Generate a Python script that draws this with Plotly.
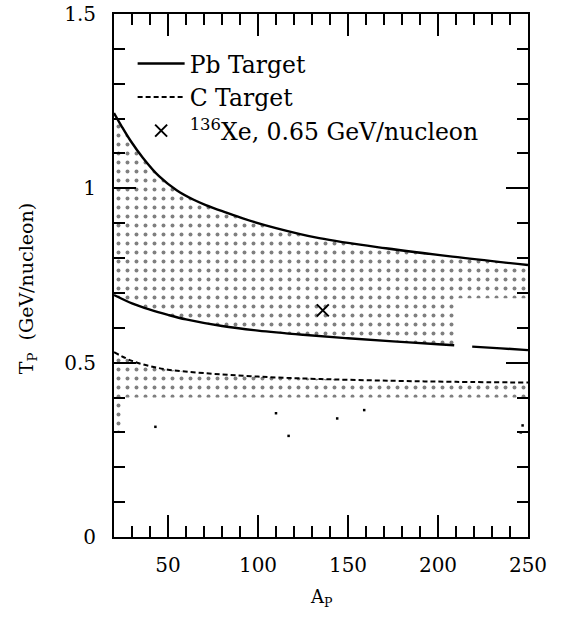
import plotly.graph_objects as go

# ---- data ----
A_pb_upper = [20, 24, 29, 36, 45, 55, 64, 71, 82, 92, 110, 134, 171, 208, 250]
T_pb_upper = [1.216, 1.180, 1.138, 1.088, 1.035, 0.994, 0.968, 0.952, 0.931, 0.913, 0.886, 0.857, 0.828, 0.804, 0.78]

A_pb_lower1 = [20, 30, 40, 50, 60, 80, 100, 125, 150, 175, 200, 209]
T_pb_lower1 = [0.694, 0.67, 0.652, 0.637, 0.624, 0.605, 0.592, 0.58, 0.57, 0.561, 0.553, 0.55]
A_pb_lower2 = [219, 235, 250]
T_pb_lower2 = [0.546, 0.541, 0.536]

A_c = [20, 30, 40, 50, 70, 100, 135, 175, 210, 250]
T_c = [0.53, 0.505, 0.49, 0.48, 0.47, 0.46, 0.453, 0.448, 0.445, 0.443]

# stippled (Monte-Carlo) regions: boundaries of the dotted areas
A_pb_cut = [250, 210, 210]
T_pb_cut = [0.685, 0.685, 0.55]
A_c_floor = [250, 26, 24, 20]
T_c_floor = [0.40, 0.40, 0.30, 0.30]

stray_A = [43, 110, 117, 144, 159, 246, 247]
stray_T = [0.316, 0.355, 0.29, 0.34, 0.364, 0.30, 0.32]

xe_A = [136]
xe_T = [0.65]

FONT = "DejaVu Serif"

fig = go.Figure()

pattern = dict(shape=".", fgcolor="black", bgcolor="rgba(0,0,0,0)", size=9, solidity=0.15)

# dotted Pb region
pb_poly_x = A_pb_upper + A_pb_cut + A_pb_lower1[::-1]
pb_poly_y = T_pb_upper + T_pb_cut + T_pb_lower1[::-1]
fig.add_trace(go.Scatter(
    x=pb_poly_x, y=pb_poly_y, mode="none", fill="toself",
    fillcolor="rgba(0,0,0,0)", fillpattern=pattern,
    showlegend=False, hoverinfo="skip"))

# dotted C region
c_poly_x = A_c + A_c_floor
c_poly_y = T_c + T_c_floor
fig.add_trace(go.Scatter(
    x=c_poly_x, y=c_poly_y, mode="none", fill="toself",
    fillcolor="rgba(0,0,0,0)", fillpattern=pattern,
    showlegend=False, hoverinfo="skip"))

fig.add_trace(go.Scatter(
    x=stray_A, y=stray_T, mode="markers",
    marker=dict(color="black", size=2.5, symbol="square"),
    showlegend=False, hoverinfo="skip"))

# Pb target curves
pb_x = A_pb_upper + [None] + A_pb_lower1 + [None] + A_pb_lower2
pb_y = T_pb_upper + [None] + T_pb_lower1 + [None] + T_pb_lower2
fig.add_trace(go.Scatter(
    x=pb_x, y=pb_y, mode="lines", name="Pb Target",
    line=dict(color="black", width=2.4, shape="spline", smoothing=1.0)))

# C target curve
fig.add_trace(go.Scatter(
    x=A_c, y=T_c, mode="lines", name="C Target",
    line=dict(color="black", width=2, dash="5px,3px", shape="spline", smoothing=1.0)))

# Xe point
fig.add_trace(go.Scatter(
    x=xe_A, y=xe_T, mode="markers", name="<sup>136</sup>Xe, 0.65 GeV/nucleon",
    marker=dict(symbol="x-thin", size=12, line=dict(color="black", width=2), color="black")))

axis_common = dict(
    showline=True, linecolor="black", linewidth=2, mirror="ticks",
    ticks="inside", tickcolor="black", tickwidth=1.5, ticklen=22,
    showgrid=False, zeroline=False, automargin=False,
    tickfont=dict(family=FONT, size=20, color="black"),
)

fig.update_xaxes(range=[20, 250], tick0=0, dtick=50, ticklabelstandoff=9,
                 minor=dict(dtick=10, ticks="inside", ticklen=11, tickcolor="black", tickwidth=1.5),
                 **axis_common)
fig.update_yaxes(range=[0, 1.5], tick0=0, dtick=0.5, ticklabelstandoff=12,
                 minor=dict(dtick=0.1, ticks="inside", ticklen=11, tickcolor="black", tickwidth=1.5),
                 **axis_common)

fig.update_layout(
    width=565, height=625,
    margin=dict(l=114, r=37, t=14, b=88),
    paper_bgcolor="white", plot_bgcolor="white",
    font=dict(family=FONT, color="black"),
    legend=dict(x=0.045, y=0.947, xanchor="left", yanchor="top",
                itemwidth=47,
                bgcolor="rgba(0,0,0,0)", borderwidth=0,
                font=dict(family=FONT, size=23.5, color="black")),
    annotations=[
        dict(text="T<sub>P</sub>  (GeV/nucleon)", xref="paper", yref="paper",
             x=-0.21, y=0.474, xanchor="center", yanchor="middle",
             textangle=-90, showarrow=False,
             font=dict(family=FONT, size=19, color="black")),
        dict(text="A<sub>P</sub>", xref="paper", yref="paper",
             x=0.5, y=-0.117, xanchor="center", yanchor="middle", showarrow=False,
             font=dict(family=FONT, size=18, color="black")),
    ],
)

fig.write_html("out.html")
